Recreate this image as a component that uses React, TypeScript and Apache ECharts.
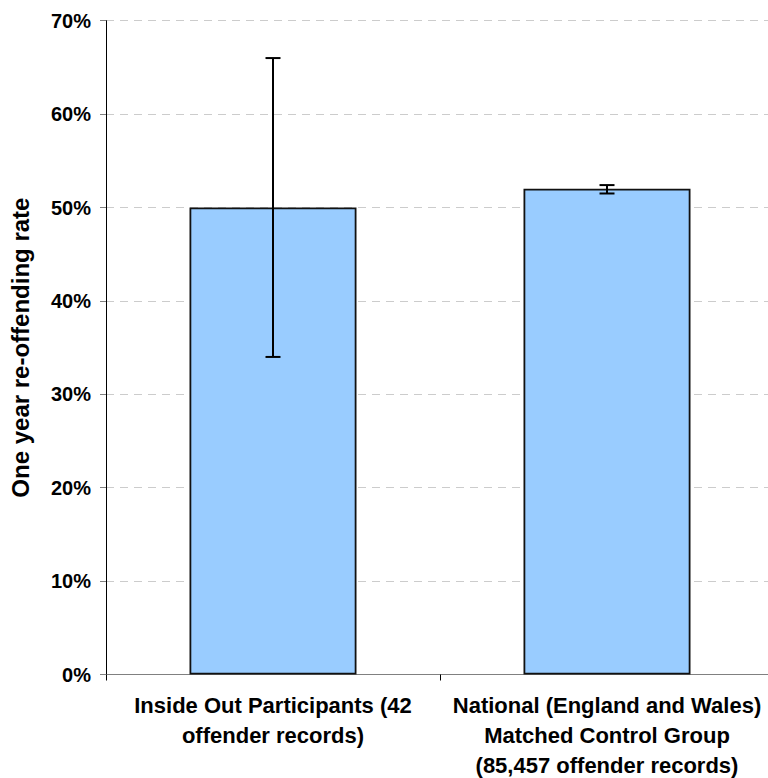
import React, { useEffect, useRef } from "react";
import * as echarts from "echarts";

const categories = [
  "Inside Out Participants (42\noffender records)",
  "National (England and Wales)\nMatched Control Group\n(85,457 offender records)",
];
const rates = [50, 52];
const errLow = [34, 51.5];
const errHigh = [66, 52.4];
const yTicks = { min: 0, max: 70, interval: 10 };
const yTitle = "One year re-offending rate";

export default function App() {
  const ref = useRef<HTMLDivElement>(null);
  useEffect(() => {
    if (!ref.current) return;
    const chart = echarts.init(ref.current, undefined, { renderer: "svg" });
    const font = "'Liberation Sans', Arial, sans-serif";
    chart.setOption({
      animation: false,
      backgroundColor: "#ffffff",
      grid: {
        left: 106,
        top: 20.7,
        width: 668,
        bottom: 103.5,
        containLabel: false,
        outerBoundsMode: "none",
      },
      xAxis: {
        type: "category",
        data: categories,
        axisLine: { show: true, lineStyle: { color: "#808080", width: 1 } },
        axisTick: { show: true, alignWithLabel: false, length: 6, lineStyle: { color: "#000" } },
        axisLabel: {
          interval: 0,
          margin: 16,
          color: "#000",
          fontFamily: font,
          fontWeight: "bold",
          fontSize: 22,
          lineHeight: 30,
        },
        splitLine: { show: false },
      },
      yAxis: {
        type: "value",
        min: yTicks.min,
        max: yTicks.max,
        interval: yTicks.interval,
        name: yTitle,
        nameLocation: "middle",
        nameGap: 74,
        nameTextStyle: { color: "#000", fontFamily: font, fontWeight: "bold", fontSize: 24 },
        axisLine: { show: true, lineStyle: { color: "#000", width: 1 } },
        axisTick: { show: true, length: 6, lineStyle: { color: "#808080" } },
        axisLabel: {
          formatter: "{value}%",
          margin: 15,
          color: "#000",
          fontFamily: font,
          fontWeight: "bold",
          fontSize: 20,
        },
        splitLine: { show: true, lineStyle: { color: "#cccccc", type: [8, 6], width: 1 } },
      },
      series: [
        {
          type: "bar",
          data: rates,
          barWidth: "50%",
          itemStyle: { color: "#99ccff", borderColor: "#111", borderWidth: 1.8 },
          z: 2,
        },
        {
          type: "custom",
          data: errLow.map((lo, i) => [i, lo, errHigh[i]]),
          encode: { x: 0, y: [1, 2] },
          z: 5,
          renderItem: (params: any, api: any) => {
            const x = api.value(0);
            const lo = api.coord([x, api.value(1)]);
            const hi = api.coord([x, api.value(2)]);
            const hw = 7.5;
            const style = { stroke: "#000", lineWidth: 2 };
            return {
              type: "group",
              children: [
                { type: "line", shape: { x1: lo[0], y1: lo[1], x2: hi[0], y2: hi[1] }, style },
                { type: "line", shape: { x1: hi[0] - hw, y1: hi[1], x2: hi[0] + hw, y2: hi[1] }, style },
                { type: "line", shape: { x1: lo[0] - hw, y1: lo[1], x2: lo[0] + hw, y2: lo[1] }, style },
              ],
            };
          },
        },
      ],
    });
    return () => chart.dispose();
  }, []);
  return <div ref={ref} style={{ width: 768, height: 778, position: "absolute", left: 0, top: 0 }} />;
}
